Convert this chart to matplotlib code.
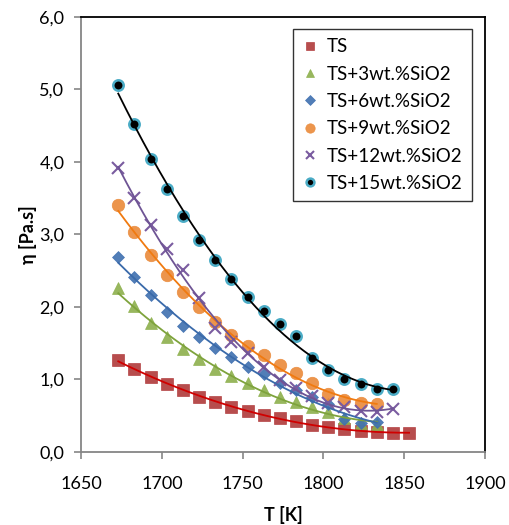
import matplotlib

matplotlib.use("Agg")
import matplotlib.pyplot as plt
import numpy as np

plt.rcParams["font.family"] = ["Lato", "DejaVu Sans"]

# temperatures in K, 10 K steps starting at 1673
T_ALL = [1673, 1683, 1693, 1703, 1713, 1723, 1733, 1743, 1753, 1763,
         1773, 1783, 1793, 1803, 1813, 1823, 1833, 1843, 1853]

ETA_TS = [1.27, 1.14, 1.04, 0.94, 0.86, 0.76, 0.69, 0.62, 0.57, 0.51,
          0.47, 0.43, 0.37, 0.34, 0.32, 0.29, 0.28, 0.26, 0.26]
ETA_3 = [2.26, 2.01, 1.78, 1.59, 1.42, 1.28, 1.15, 1.05, 0.95, 0.86,
         0.76, 0.69, 0.62, 0.55, 0.47, 0.40, 0.39]
ETA_6 = [2.69, 2.41, 2.17, 1.93, 1.74, 1.59, 1.43, 1.31, 1.17, 1.08,
         0.95, 0.86, 0.76, 0.66, 0.46, 0.40, 0.41]
ETA_9 = [3.41, 3.04, 2.71, 2.44, 2.20, 2.00, 1.79, 1.61, 1.46, 1.34,
         1.20, 1.09, 0.95, 0.80, 0.72, 0.68, 0.66]
ETA_12 = [3.91, 3.50, 3.13, 2.80, 2.51, 2.12, 1.71, 1.52, 1.37, 1.17,
          0.99, 0.88, 0.77, 0.68, 0.62, 0.57, 0.55, 0.59]
ETA_15 = [5.06, 4.52, 4.04, 3.63, 3.26, 2.92, 2.65, 2.39, 2.14, 1.94,
          1.77, 1.60, 1.30, 1.13, 1.01, 0.94, 0.87, 0.87]

LABELS = ["TS", "TS+3wt.%SiO2", "TS+6wt.%SiO2", "TS+9wt.%SiO2",
          "TS+12wt.%SiO2", "TS+15wt.%SiO2"]
X_TICKS = [1650, 1700, 1750, 1800, 1850, 1900]
Y_TICKS = [0, 1, 2, 3, 4, 5, 6]
Y_TICK_LABELS = ["0,0", "1,0", "2,0", "3,0", "4,0", "5,0", "6,0"]

# marker, face, edge, size, trendline colour
STYLES = [
    ("s", "#B0393A", "#B0393A", 8.0, "#D00000"),
    ("^", "#8DB04C", "#8DB04C", 8.0, "#7EA33C"),
    ("D", "#3F70B0", "#3F70B0", 6.5, "#3A6AAA"),
    ("o", "#EA8A3A", "#EA8A3A", 9.0, "#F07A10"),
    ("x", "#7A5CA0", "#7A5CA0", 8.5, "#6E5494"),
    ("o", "#000000", "#4BACC6", 7.5, "#000000"),
]


def main() -> None:
    series = [ETA_TS, ETA_3, ETA_6, ETA_9, ETA_12, ETA_15]

    fig = plt.figure(figsize=(5.1, 5.25), dpi=100)
    ax = fig.add_axes([0.159, 0.139, 0.792, 0.829])

    for eta, label, (marker, face, edge, size, line_color) in zip(series, LABELS, STYLES):
        t = np.array(T_ALL[: len(eta)], dtype=float)
        y = np.array(eta)
        if marker == "x":
            ax.plot(t, y, linestyle="none", marker="x", color=face, markersize=size,
                    markeredgewidth=1.5, label=label, zorder=3)
        else:
            ax.plot(t, y, linestyle="none", marker=marker, markerfacecolor=face,
                    markeredgecolor=edge, markeredgewidth=1.8 if edge != face else 0.5,
                    markersize=size, alpha=0.9 if edge == face else 1.0,
                    label=label, zorder=3)
        # Excel-style second order polynomial trendline
        coeffs = np.polyfit(t - 1750, y, 2)
        tt = np.linspace(t[0], t[-1], 200)
        ax.plot(tt, np.polyval(coeffs, tt - 1750), color=line_color, linewidth=1.3, zorder=4)

    ax.set_xlim(1650, 1900)
    ax.set_ylim(0, 6)
    ax.set_xticks(X_TICKS)
    ax.set_xticklabels([str(v) for v in X_TICKS])
    ax.set_yticks(Y_TICKS)
    ax.set_yticklabels(Y_TICK_LABELS)
    ax.tick_params(labelsize=13, colors="#868686", labelcolor="black", length=5, width=1.2)
    ax.tick_params(axis="x", pad=12)
    ax.tick_params(axis="y", pad=7)

    ax.spines["left"].set_color("#868686")
    ax.spines["bottom"].set_color("#868686")
    for side in ("left", "bottom"):
        ax.spines[side].set_linewidth(1.3)
    for side in ("top", "right"):
        ax.spines[side].set_color("black")
        ax.spines[side].set_linewidth(1.3)

    ax.set_xlabel("T [K]", fontsize=13, fontweight="bold", labelpad=10)
    ax.set_ylabel("η [Pa.s]", fontsize=13, fontweight="bold", labelpad=2)

    leg = ax.legend(loc="upper right", bbox_to_anchor=(0.968, 0.972), borderaxespad=0,
                    fontsize=13.5, frameon=True, fancybox=False, edgecolor="black",
                    handlelength=0.8, handletextpad=0.5, labelspacing=0.55,
                    borderpad=0.5, markerscale=0.75)
    leg.get_frame().set_linewidth(1.0)

    fig.savefig("out.png", dpi=100)


if __name__ == "__main__":
    main()
